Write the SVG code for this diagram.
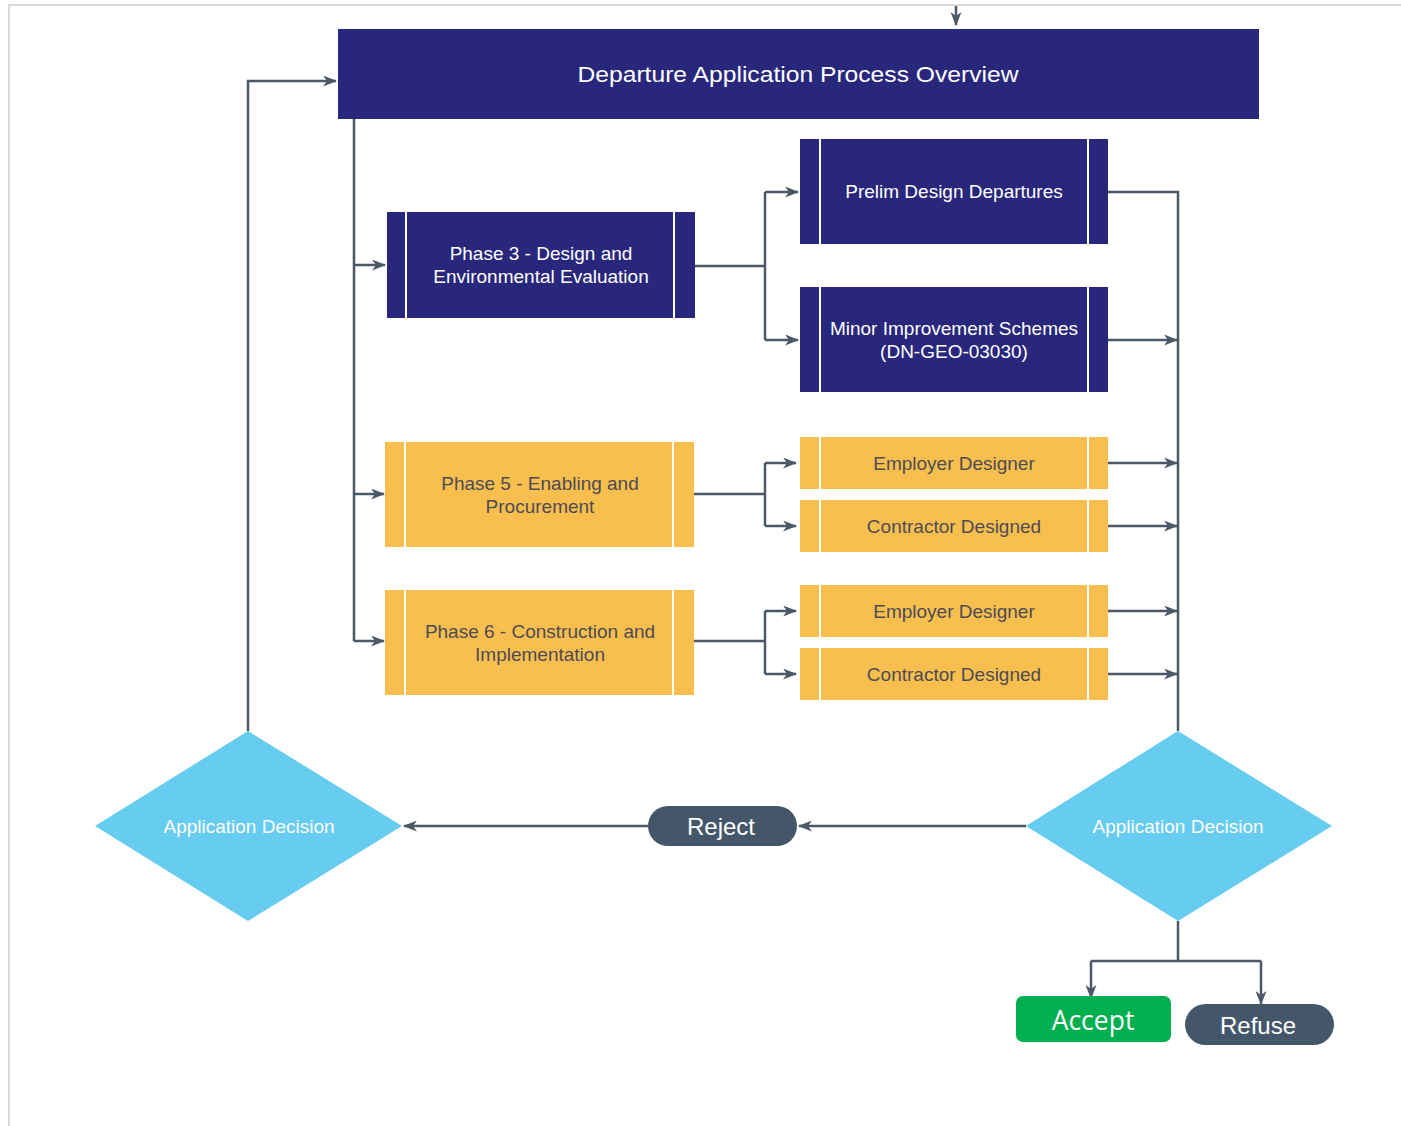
<svg xmlns="http://www.w3.org/2000/svg" width="1401" height="1126" viewBox="0 0 1401 1126">
<style>
.navy{fill:#29277c}
.yel{fill:#f9bf4e}
.sep{stroke:#ffffff;stroke-width:2}
.tw{font-family:"Liberation Sans",Arial,sans-serif;font-size:19px;fill:#ffffff;text-anchor:middle}
.ty{font-family:"Liberation Sans",Arial,sans-serif;font-size:19px;fill:#4d4b55;text-anchor:middle}
.dia{fill:#66ccf0}
.td{font-family:"Liberation Sans",Arial,sans-serif;font-size:19px;fill:#ffffff;text-anchor:middle}
.pill{fill:#44576a}
.tp{font-family:"Liberation Sans",Arial,sans-serif;font-size:24px;font-weight:500;fill:#ffffff;text-anchor:middle}
.c{fill:none;stroke:#4a5868;stroke-width:2.5}
</style>
<defs>
<marker id="ah" viewBox="0 0 14 11" refX="13" refY="5.5" markerWidth="14" markerHeight="11" markerUnits="userSpaceOnUse" orient="auto">
<path d="M0,0 L14,5.5 L0,11 L4,5.5 z" fill="#4a5868"/>
</marker>
</defs>
<rect width="1401" height="1126" fill="#ffffff"/>
<path d="M9,1126 V5 H1401" fill="none" stroke="#d9d9d9" stroke-width="2"/>

<g id="connectors">
<path class="c" d="M956,6 V25" marker-end="url(#ah)"/>
<path class="c" d="M248,731 V81 H336" marker-end="url(#ah)"/>
<path class="c" d="M354,119 V641"/>
<path class="c" d="M354,265 H385" marker-end="url(#ah)"/>
<path class="c" d="M354,494 H384" marker-end="url(#ah)"/>
<path class="c" d="M354,641 H384" marker-end="url(#ah)"/>
<path class="c" d="M695,266 H765"/>
<path class="c" d="M765,192 V340"/>
<path class="c" d="M765,192 H798" marker-end="url(#ah)"/>
<path class="c" d="M765,340 H798" marker-end="url(#ah)"/>
<path class="c" d="M694,494 H765"/>
<path class="c" d="M765,463 V526"/>
<path class="c" d="M765,463 H796" marker-end="url(#ah)"/>
<path class="c" d="M765,526 H796" marker-end="url(#ah)"/>
<path class="c" d="M694,641 H765"/>
<path class="c" d="M765,611 V674"/>
<path class="c" d="M765,611 H796" marker-end="url(#ah)"/>
<path class="c" d="M765,674 H796" marker-end="url(#ah)"/>
<path class="c" d="M1108,192 H1178 V731"/>
<path class="c" d="M1108,340 H1177" marker-end="url(#ah)"/>
<path class="c" d="M1108,463 H1177" marker-end="url(#ah)"/>
<path class="c" d="M1108,526 H1177" marker-end="url(#ah)"/>
<path class="c" d="M1108,611 H1177" marker-end="url(#ah)"/>
<path class="c" d="M1108,674 H1177" marker-end="url(#ah)"/>
<path class="c" d="M1026,826 H799" marker-end="url(#ah)"/>
<path class="c" d="M648,826 H404" marker-end="url(#ah)"/>
<path class="c" d="M1178,921 V961"/>
<path class="c" d="M1091,961 H1261"/>
<path class="c" d="M1091,961 V998" marker-end="url(#ah)"/>
<path class="c" d="M1261,961 V1004" marker-end="url(#ah)"/>
</g>

<g id="header">
<rect class="navy" x="338" y="29" width="921" height="90"/>
<text x="798" y="82" font-family="Liberation Sans,Arial,sans-serif" font-size="22" fill="#ffffff" text-anchor="middle" textLength="441" lengthAdjust="spacingAndGlyphs">Departure Application Process Overview</text>
</g>

<g id="phase3">
<rect class="navy" x="387" y="212" width="308" height="106"/>
<line class="sep" x1="406" y1="212" x2="406" y2="318"/>
<line class="sep" x1="674" y1="212" x2="674" y2="318"/>
<text class="tw" x="541" y="260">Phase 3 - Design and</text>
<text class="tw" x="541" y="283">Environmental Evaluation</text>
</g>

<g id="prelim">
<rect class="navy" x="800" y="139" width="308" height="105"/>
<line class="sep" x1="820" y1="139" x2="820" y2="244"/>
<line class="sep" x1="1088" y1="139" x2="1088" y2="244"/>
<text class="tw" x="954" y="198">Prelim Design Departures</text>
</g>

<g id="minor">
<rect class="navy" x="800" y="287" width="308" height="105"/>
<line class="sep" x1="820" y1="287" x2="820" y2="392"/>
<line class="sep" x1="1088" y1="287" x2="1088" y2="392"/>
<text class="tw" x="954" y="335">Minor Improvement Schemes</text>
<text class="tw" x="954" y="358">(DN-GEO-03030)</text>
</g>

<g id="phase5">
<rect class="yel" x="385" y="442" width="309" height="105"/>
<line class="sep" x1="405" y1="442" x2="405" y2="547"/>
<line class="sep" x1="673" y1="442" x2="673" y2="547"/>
<text class="ty" x="540" y="490">Phase 5 - Enabling and</text>
<text class="ty" x="540" y="513">Procurement</text>
</g>

<g id="phase6">
<rect class="yel" x="385" y="590" width="309" height="105"/>
<line class="sep" x1="405" y1="590" x2="405" y2="695"/>
<line class="sep" x1="673" y1="590" x2="673" y2="695"/>
<text class="ty" x="540" y="638">Phase 6 - Construction and</text>
<text class="ty" x="540" y="661">Implementation</text>
</g>

<g id="employer1">
<rect class="yel" x="800" y="437" width="308" height="52"/>
<line class="sep" x1="820" y1="437" x2="820" y2="489"/>
<line class="sep" x1="1088" y1="437" x2="1088" y2="489"/>
<text class="ty" x="954" y="470">Employer Designer</text>
</g>

<g id="contractor1">
<rect class="yel" x="800" y="500" width="308" height="52"/>
<line class="sep" x1="820" y1="500" x2="820" y2="552"/>
<line class="sep" x1="1088" y1="500" x2="1088" y2="552"/>
<text class="ty" x="954" y="533">Contractor Designed</text>
</g>

<g id="employer2">
<rect class="yel" x="800" y="585" width="308" height="52"/>
<line class="sep" x1="820" y1="585" x2="820" y2="637"/>
<line class="sep" x1="1088" y1="585" x2="1088" y2="637"/>
<text class="ty" x="954" y="618">Employer Designer</text>
</g>

<g id="contractor2">
<rect class="yel" x="800" y="648" width="308" height="52"/>
<line class="sep" x1="820" y1="648" x2="820" y2="700"/>
<line class="sep" x1="1088" y1="648" x2="1088" y2="700"/>
<text class="ty" x="954" y="681">Contractor Designed</text>
</g>

<g id="decision-left">
<polygon class="dia" points="248,731 402,826 248,921 95,826"/>
<text class="td" x="249" y="833">Application Decision</text>
</g>

<g id="decision-right">
<polygon class="dia" points="1178,731 1332,826 1178,921 1026,826"/>
<text class="td" x="1178" y="833">Application Decision</text>
</g>

<g id="reject">
<rect class="pill" x="648" y="806" width="149" height="40" rx="20"/>
<text class="tp" x="721" y="835">Reject</text>
</g>

<g id="accept">
<rect x="1016" y="996" width="155" height="46" rx="7" fill="#00b050"/>
<text x="1093" y="1030" font-family="Open Sans,Liberation Sans,sans-serif" font-size="26.5" fill="#ffffff" text-anchor="middle">Accept</text>
</g>

<g id="refuse">
<rect class="pill" x="1185" y="1004" width="149" height="41" rx="20.5"/>
<text class="tp" x="1258" y="1034">Refuse</text>
</g>
</svg>
